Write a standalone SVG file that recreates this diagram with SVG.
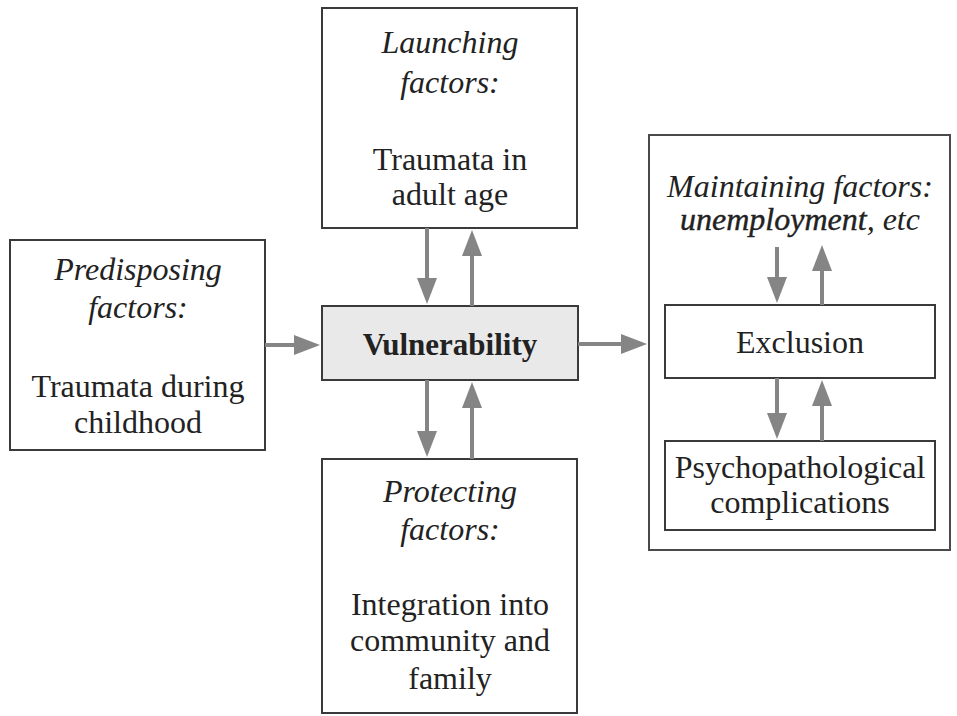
<svg xmlns="http://www.w3.org/2000/svg" width="957" height="716" viewBox="0 0 957 716">
<defs>
<marker id="ah" markerUnits="userSpaceOnUse" markerWidth="26" markerHeight="20" refX="14" refY="10" orient="auto">
<path d="M0,0 L26,10 L0,20 z" fill="#858585"/>
</marker>
<style>
.box{fill:#fff;stroke:#3a3a3a;stroke-width:2}
.vul{fill:#e9e9e9;stroke:#3a3a3a;stroke-width:2}
.outer{fill:#fff;stroke:#4a4a4a;stroke-width:2}
text{font-family:"Liberation Serif","Times New Roman",serif;font-size:32px;fill:#222;text-anchor:middle}
.it{font-style:italic}
.b{font-weight:bold}
.arr line{stroke:#858585;stroke-width:4;marker-end:url(#ah)}
</style>
</defs>
<rect width="957" height="716" fill="#fff"/>
<g id="launching">
<rect class="box" x="322" y="8" width="255" height="220"/>
<text class="it" x="450" y="53">Launching</text>
<text class="it" x="450" y="93">factors:</text>
<text x="450" y="170">Traumata in</text>
<text x="450" y="205">adult age</text>
</g>
<g id="predisposing">
<rect class="box" x="10" y="240" width="255" height="210"/>
<text class="it" x="138" y="280">Predisposing</text>
<text class="it" x="138" y="318">factors:</text>
<text x="138" y="397">Traumata during</text>
<text x="138" y="433">childhood</text>
</g>
<g id="vulnerability">
<rect class="vul" x="322" y="306" width="256" height="74"/>
<text class="b" x="450" y="355" style="font-size:31px">Vulnerability</text>
</g>
<g id="protecting">
<rect class="box" x="322" y="459" width="255" height="254"/>
<text class="it" x="450" y="502">Protecting</text>
<text class="it" x="450" y="540">factors:</text>
<text x="450" y="615">Integration into</text>
<text x="450" y="651">community and</text>
<text x="450" y="689">family</text>
</g>
<g id="maintaining">
<rect class="outer" x="649" y="135" width="301" height="415"/>
<text class="it" x="800" y="197">Maintaining factors:</text>
<text class="it" x="800" y="230"><tspan style="stroke:#222;stroke-width:0.4">unemployment</tspan>, etc</text>
</g>
<g id="exclusion">
<rect class="box" x="665" y="305" width="270" height="73"/>
<text x="800" y="353">Exclusion</text>
</g>
<g id="psychopathological">
<rect class="box" x="665" y="441" width="270" height="89"/>
<text x="800" y="478">Psychopathological</text>
<text x="800" y="513">complications</text>
</g>
<g id="connectors" class="arr">
<line x1="265" y1="345" x2="308" y2="345"/>
<line x1="578" y1="344" x2="635" y2="344"/>
<line x1="427" y1="228" x2="427" y2="292"/>
<line x1="472" y1="306" x2="472" y2="242"/>
<line x1="427" y1="380" x2="427" y2="445"/>
<line x1="472" y1="459" x2="472" y2="394"/>
<line x1="777" y1="247" x2="777" y2="291"/>
<line x1="822" y1="305" x2="822" y2="257"/>
<line x1="777" y1="378" x2="777" y2="427"/>
<line x1="822" y1="441" x2="822" y2="392"/>
</g>
</svg>
